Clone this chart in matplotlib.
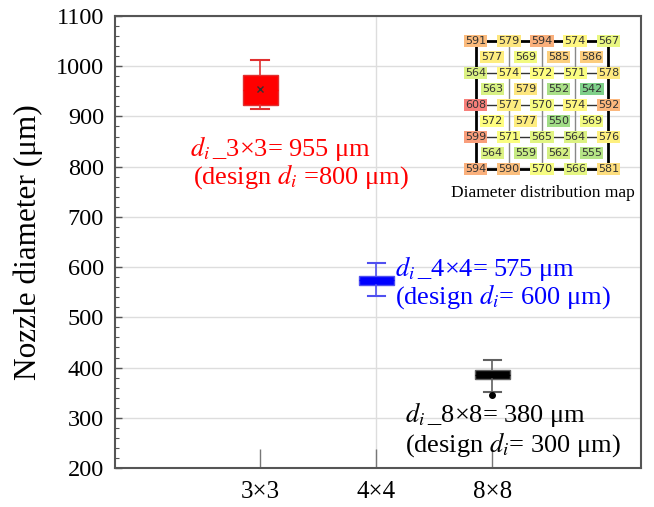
import matplotlib
matplotlib.use("Agg")
import matplotlib.pyplot as plt
import numpy as np
from matplotlib.colors import LinearSegmentedColormap, TwoSlopeNorm

# box statistics (um)
categories = ['3×3', '4×4', '8×8']
q1 = [922, 565, 377]
med = [952, 574, 386]
q3 = [982, 583, 395]
whislo = [915, 543, 351]
whishi = [1013, 608, 415]
means = [955, 575, 380]
fliers = [[], [], [345]]
box_colors = ['#ff0000', '#0000ff', '#000000']
line_colors = ['#e03030', '#5050f0', '#606060']

# diameter distribution map (rows top -> bottom)
map_rows = [
    [591, 579, 594, 574, 567],
    [577, 569, 585, 586],
    [564, 574, 572, 571, 578],
    [563, 579, 552, 542],
    [608, 577, 570, 574, 592],
    [572, 577, 550, 569],
    [599, 571, 565, 564, 576],
    [564, 559, 562, 555],
    [594, 590, 570, 566, 581],
]

plt.rcParams['font.family'] = ['Liberation Serif', 'DejaVu Serif']
plt.rcParams['mathtext.fontset'] = 'stix'

W, H = 654, 507
fig = plt.figure(figsize=(W / 100, H / 100), dpi=100)
ax = fig.add_axes([115 / W, 1 - 468 / H, (641 - 115) / W, (468 - 16) / H])

pos = np.arange(1, len(categories) + 1)
stats = []
for k in range(len(categories)):
    stats.append(dict(q1=q1[k], med=med[k], q3=q3[k], whislo=whislo[k],
                      whishi=whishi[k], mean=means[k], fliers=fliers[k]))
parts = ax.bxp(stats, positions=pos, widths=0.3, patch_artist=True,
               showmeans=True, manage_ticks=False)
for k in range(len(categories)):
    parts['boxes'][k].set(facecolor=box_colors[k], edgecolor=line_colors[k], lw=1)
    parts['medians'][k].set(color=box_colors[k], lw=1)
    for w in parts['whiskers'][2 * k:2 * k + 2]:
        w.set(color=line_colors[k], lw=1.2)
    for c in parts['caps'][2 * k:2 * k + 2]:
        c.set(color=line_colors[k], lw=1.5)
    parts['fliers'][k].set(marker='o', markerfacecolor='black',
                           markeredgecolor='black', markersize=4)
    if k == 0:
        parts['means'][k].set(marker='x', markerfacecolor='#333333',
                              markeredgecolor='#333333', markersize=5,
                              markeredgewidth=1)
    else:
        parts['means'][k].set(visible=False)

ax.set_xlim(-0.25, 4.28)
ax.set_ylim(200, 1100)
ax.set_xticks(pos)
ax.set_xticklabels(categories)
ax.set_yticks(np.arange(200, 1101, 100))
ax.set_yticks(np.arange(200, 1101, 20), minor=True)
ax.tick_params(axis='x', direction='in', length=14, width=1, color='#777777',
               labelsize=18, pad=9)
ax.tick_params(axis='y', which='major', direction='in', length=5, width=1,
               color='#555555', labelsize=17.5, pad=8)
ax.tick_params(axis='y', which='minor', direction='in', length=3, width=0.8,
               color='#555555')
ax.set_ylabel('Nozzle diameter (μm)', fontsize=22.5, labelpad=9)
for s in ax.spines.values():
    s.set_color('#555555')
    s.set_linewidth(1.5)
ax.grid(axis='y', color='#dddddd', lw=1)
ax.axvline(2, color='#dddddd', lw=1, zorder=0)
ax.set_axisbelow(True)

fs = 19
ax.text(0.40, 837, r'$d_i\,$_3×3= 955 μm', color='red', fontsize=fs, va='center')
ax.text(0.42, 780, r'(design $d_i$ =800 μm)', color='red', fontsize=fs, va='center')
ax.text(2.16, 598, r'$d_i\,$_4×4= 575 μm', color='blue', fontsize=fs, va='center')
ax.text(2.16, 541, r'(design $d_i$= 600 μm)', color='blue', fontsize=fs, va='center')
ax.text(2.25, 306, r'$d_i\,$_8×8= 380 μm', color='black', fontsize=fs, va='center')
ax.text(2.25, 246, r'(design $d_i$= 300 μm)', color='black', fontsize=fs, va='center')

# inset: distribution map
ins = fig.add_axes([459 / W, 1 - 177 / H, (625 - 459) / W, (177 - 33) / H])
ins.set_xlim(-0.5, 4.5)
ins.set_ylim(8.5, -0.5)
ins.axis('off')

cmap = LinearSegmentedColormap.from_list('xl', ['#7fd08a', '#ffff80', '#f77f7a'])
allv = [v for r in map_rows for v in r]
norm = TwoSlopeNorm(vmin=min(allv), vcenter=float(np.median(allv)), vmax=max(allv))

for i in (2, 4, 6):
    ins.plot([0, 4], [i, i], color='#333333', lw=1, zorder=1)
for j in (1, 2, 3):
    ins.plot([j, j], [0, 8], color='#888888', lw=1, zorder=1)
ins.plot([0, 4, 4, 0, 0], [0, 0, 8, 8, 0], color='black', lw=2, zorder=1)

for i, row in enumerate(map_rows):
    off = 0.5 if i % 2 else 0.0
    for j, v in enumerate(row):
        ins.text(j + off, i, str(v), ha='center', va='center', fontsize=8,
                 family='DejaVu Sans', color='#333333', zorder=3,
                 bbox=dict(boxstyle='square,pad=0.1', fc=cmap(norm(v)),
                           ec='none'))

fig.text(543 / W, 1 - 193 / H, 'Diameter distribution map', ha='center',
         va='center', fontsize=12.5)

fig.savefig('out.png', dpi=100)
